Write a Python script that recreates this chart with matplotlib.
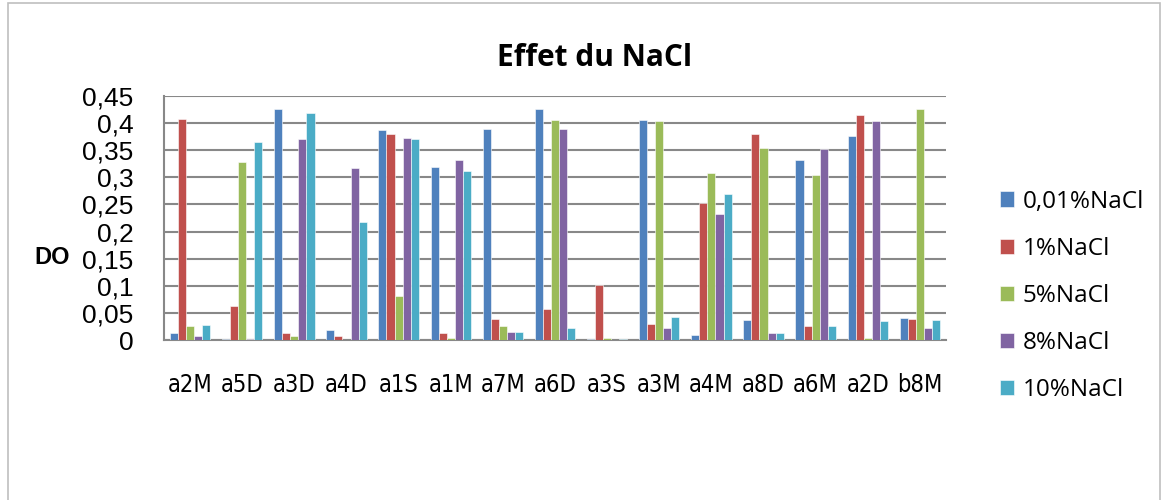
import numpy as np
import matplotlib
matplotlib.use('Agg')
import matplotlib.pyplot as plt
from matplotlib.patches import Rectangle

strains = ['a2M', 'a5D', 'a3D', 'a4D', 'a1S', 'a1M', 'a7M', 'a6D',
           'a3S', 'a3M', 'a4M', 'a8D', 'a6M', 'a2D', 'b8M']
series_names = ['0,01%NaCl', '1%NaCl', '5%NaCl', '8%NaCl', '10%NaCl']

nacl_001 = [0.013, 0.001, 0.426, 0.018, 0.387, 0.319, 0.389, 0.426,
            0.001, 0.406, 0.009, 0.036, 0.332, 0.377, 0.041]
nacl_1 = [0.408, 0.062, 0.013, 0.007, 0.380, 0.013, 0.039, 0.058,
          0.101, 0.030, 0.253, 0.380, 0.025, 0.415, 0.038]
nacl_5 = [0.025, 0.329, 0.007, 0.0, 0.081, 0.004, 0.025, 0.406,
          0.003, 0.404, 0.308, 0.354, 0.304, 0.004, 0.426]
nacl_8 = [0.007, 0.002, 0.370, 0.317, 0.373, 0.332, 0.014, 0.389,
          0.0, 0.023, 0.232, 0.013, 0.352, 0.403, 0.023]
nacl_10 = [0.027, 0.365, 0.419, 0.217, 0.370, 0.311, 0.015, 0.023,
           0.002, 0.042, 0.269, 0.012, 0.025, 0.035, 0.036]

colors = ['#4F81BD', '#C0504D', '#9BBB59', '#8064A2', '#4BACC6']
series = [nacl_001, nacl_1, nacl_5, nacl_8, nacl_10]

fig = plt.figure(figsize=(11.69, 5.0), dpi=100)
fig.patches.append(Rectangle((8 / 1169, -0.05), 1152 / 1169, 1.045,
                             transform=fig.transFigure, fill=False,
                             edgecolor='#BFBFBF', linewidth=1.2))

ax = fig.add_axes([164 / 1169, 1 - 340 / 500, (946 - 164) / 1169, (340 - 96) / 500])

x = np.arange(len(strains))
bw = 0.155
for i, (vals, c, name) in enumerate(zip(series, colors, series_names)):
    ax.bar(x + (i - 2) * bw, vals, width=bw, color=c, label=name,
           edgecolor='white', linewidth=0.4, zorder=3)

ax.set_xlim(-0.5, len(strains) - 0.5)
ax.set_ylim(0, 0.45)
yt = np.arange(0, 0.451, 0.05)
ax.set_yticks(yt)
ax.set_yticklabels(['0'] + [('%.2f' % v).rstrip('0').replace('.', ',') for v in yt[1:]],
                   fontsize=19, family='Liberation Sans')
ax.set_xticks(x)
ax.set_xticklabels(strains, fontsize=17, family='DejaVu Sans', stretch='condensed')
ax.tick_params(axis='both', length=0)
ax.tick_params(axis='y', pad=22)
ax.tick_params(axis='x', pad=24)
ax.yaxis.grid(True, color='#888888', linewidth=1.5, zorder=0)
for s in ['top', 'right']:
    ax.spines[s].set_visible(False)
ax.spines['left'].set_color('#888888')
ax.spines['left'].set_linewidth(1.5)
ax.spines['bottom'].set_color('#888888')
ax.spines['bottom'].set_linewidth(1.5)

fig.text(595 / 1169, 1 - 58 / 500, 'Effet du NaCl', ha='center', va='center',
         fontsize=21.5, fontweight='bold', family='Open Sans')
fig.text(52 / 1169, 1 - 258 / 500, 'DO', ha='center', va='center',
         fontsize=17, fontweight='bold', family='Liberation Sans')

leg = fig.legend(loc='upper left', bbox_to_anchor=(990 / 1169, 1 - 180 / 500),
                 frameon=False, prop={'family': 'Open Sans', 'size': 17.5},
                 handlelength=0.6, handleheight=0.6, handletextpad=0.35,
                 labelspacing=0.95, borderaxespad=0)

fig.savefig('out.png', dpi=100)
